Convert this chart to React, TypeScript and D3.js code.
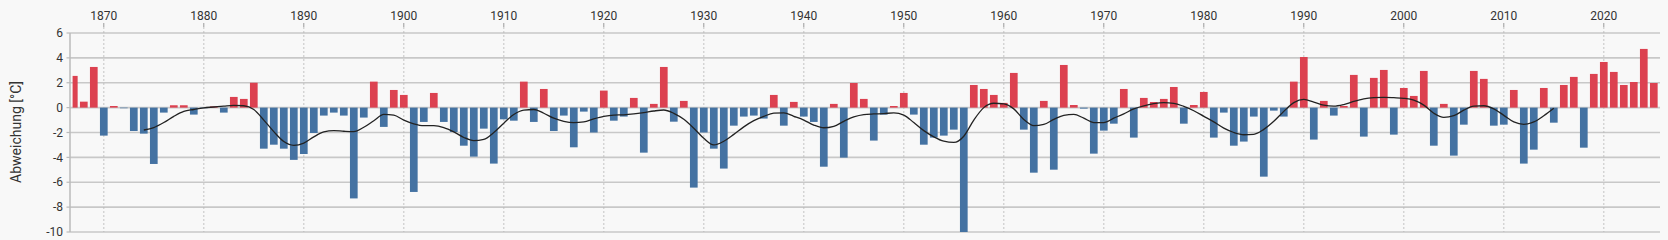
import React from "react";
import * as d3 from "d3";

const startYear = 1867;
const anomalies: number[] = [
  2.55, 0.48, 3.27, -2.25, 0.13, -0.05, -1.88, -2.09, -4.53, -0.4,
  0.19, 0.19, -0.56, -0.05, 0.1, -0.4, 0.86, 0.7, 2.0, -3.3,
  -2.98, -3.3, -4.2, -3.73, -2.04, -0.64, -0.4, -0.64, -7.3, -0.8,
  2.09, -1.55, 1.42, 1.02, -6.78, -1.15, 1.18, -1.15, -1.96, -3.06,
  -3.94, -1.69, -4.5, -0.94, -1.05, 2.09, -1.15, 1.5, -1.88, -0.64,
  -3.19, -0.32, -2.0, 1.37, -1.05, -0.72, 0.78, -3.62, 0.3, 3.27,
  -1.13, 0.54, -6.43, -2.0, -3.3, -4.9, -1.45, -0.72, -0.64, -0.88,
  1.02, -1.45, 0.46, -0.72, -1.15, -4.75, 0.3, -4.02, 1.98, 0.7,
  -2.65, -0.56, 0.13, 1.18, -0.56, -2.98, -2.41, -2.25, -1.77, -10.2,
  1.82, 1.5, 1.02, 0.38, 2.79, -1.77, -5.23, 0.54, -4.99, 3.43,
  0.21, -0.08, -3.7, -1.85, -1.29, 1.5, -2.41, 0.78, 0.45, 0.7,
  1.66, -1.29, 0.21, 1.26, -2.41, -0.4, -3.06, -2.73, -0.72, -5.55,
  -0.24, -0.72, 2.09, 4.07, -2.57, 0.54, -0.64, 0.13, 2.63, -2.33,
  2.39, 3.03, -2.17, 1.58, 0.94, 2.95, -3.06, 0.3, -3.86, -1.37,
  2.95, 2.31, -1.45, -1.37, 1.42, -4.5, -3.38, 1.58, -1.21, 1.82,
  2.47, -3.22, 2.71, 3.67, 2.87, 1.82, 2.06, 4.72, 1.98,
];
const years: number[] = anomalies.map((_, i) => startYear + i);

const smoothStart = 1874;
const smoothValues: number[] = [
  -1.8, -1.6, -1.2, -0.7, -0.3, -0.15, -0.02, 0.05, 0.12, 0.18,
  0.15, -0.15, -1.0, -1.93, -2.73, -3.03, -2.85, -2.35, -1.95, -1.85,
  -1.9, -1.93, -1.58, -1.05, -0.54, -0.6, -1.0, -1.3, -1.45, -1.45,
  -1.6, -1.95, -2.4, -2.65, -2.55, -2.0, -1.25, -0.55, -0.2, -0.15,
  -0.45, -0.85, -1.1, -1.2, -1.15, -0.9, -0.7, -0.6, -0.58, -0.51,
  -0.4, -0.27, -0.19, -0.46, -0.94, -1.66, -2.47, -3.0, -2.7, -2.15,
  -1.55, -1.05, -0.7, -0.45, -0.42, -0.7, -1.0, -1.4, -1.62, -1.5,
  -1.1, -0.75, -0.56, -0.51, -0.48, -0.42, -0.6, -1.2, -1.85, -2.35,
  -2.7, -2.8, -2.3, -1.0, 0.0, 0.35, 0.3, -0.1, -0.95, -1.45,
  -1.35, -0.95, -0.62, -0.55, -0.85, -1.2, -1.2, -0.85, -0.5, -0.1,
  0.15, 0.32, 0.4, 0.35, 0.1, -0.25, -0.7, -1.15, -1.65, -2.0,
  -2.18, -2.15, -1.75, -1.1, -0.3, 0.4, 0.66, 0.45, 0.2, 0.12,
  0.25, 0.5, 0.7, 0.8, 0.83, 0.8, 0.75, 0.6, 0.2, -0.45,
  -0.78, -0.65, -0.2, 0.12, 0.15, -0.1, -0.62, -1.15, -1.34, -1.15,
  -0.65, -0.05,
];

const yTicks: number[] = [6, 4, 2, 0, -2, -4, -6, -8, -10];
const xTicks: number[] = [1870, 1880, 1890, 1900, 1910, 1920, 1930, 1940, 1950, 1960, 1970, 1980, 1990, 2000, 2010, 2020];
const yTitle = "Abweichung [°C]";

const W = 1668;
const H = 240;
const plotLeft = 70;
const plotRight = 1660;
const plotTop = 33;
const plotBottom = 232;

const RED = "#dc4150";
const BLUE = "#4472a2";
const FONT = "Roboto, 'Noto Sans', sans-serif";

export default function App() {
  const x = d3.scaleLinear().domain([1870, 2020]).range([103.8, 1603.8]);
  const y = d3.scaleLinear().domain([-10, 6]).range([plotBottom, plotTop]);
  const barW = 7.7;

  const smooth = smoothValues.map((v, i) => [smoothStart + i, v] as [number, number]);
  const line = d3
    .line<[number, number]>()
    .x((d) => x(d[0]))
    .y((d) => y(d[1]))
    .curve(d3.curveMonotoneX);

  return (
    <svg
      width={W}
      height={H}
      style={{ position: "absolute", left: 0, top: 0, background: "#f8f8f8", fontFamily: FONT }}
    >
      <defs>
        <clipPath id="plotClip">
          <rect x={72.6} y={plotTop} width={plotRight - 72.6 + 2} height={plotBottom - plotTop} />
        </clipPath>
      </defs>
      <rect x={0} y={0} width={W} height={H} fill="#f8f8f8" />
      {yTicks.map((t) => (
        <line key={"g" + t} x1={plotLeft} x2={plotRight} y1={y(t)} y2={y(t)} stroke="#c8c8c8" strokeWidth={1.6} />
      ))}
      {xTicks.map((t) => (
        <g key={"x" + t}>
          <line x1={x(t)} x2={x(t)} y1={27} y2={plotBottom} stroke="#b8b8b8" strokeWidth={0.8} strokeDasharray="2,2" />
          <line x1={x(t)} x2={x(t)} y1={23} y2={27} stroke="#999" strokeWidth={1} />
          <text x={x(t)} y={20} textAnchor="middle" fontSize={12} fill="#333">
            {t}
          </text>
        </g>
      ))}
      <line x1={plotLeft} x2={plotLeft} y1={plotTop} y2={plotBottom} stroke="#bbb" strokeWidth={1.5} />
      {yTicks.map((t) => (
        <g key={"y" + t}>
          <line x1={66.5} x2={plotLeft} y1={y(t)} y2={y(t)} stroke="#bbb" strokeWidth={1.2} />
          <text x={63} y={y(t) + 4.2} textAnchor="end" fontSize={12} fill="#333">
            {t}
          </text>
        </g>
      ))}
      <text
        transform={`translate(${21},${132}) rotate(-90)`}
        textAnchor="middle"
        fontSize={14}
        fill="#333"
      >
        {yTitle}
      </text>
      <g clipPath="url(#plotClip)">
        {anomalies.map((v, i) => {
          const yr = years[i];
          const y0 = y(0);
          const y1 = y(v);
          return (
            <rect
              key={yr}
              x={x(yr) - barW / 2}
              y={Math.min(y0, y1)}
              width={barW}
              height={Math.max(0.6, Math.abs(y1 - y0))}
              fill={v >= 0 ? RED : BLUE}
            />
          );
        })}
        <path d={line(smooth) || ""} fill="none" stroke="#222" strokeWidth={1.3} />
      </g>
    </svg>
  );
}
